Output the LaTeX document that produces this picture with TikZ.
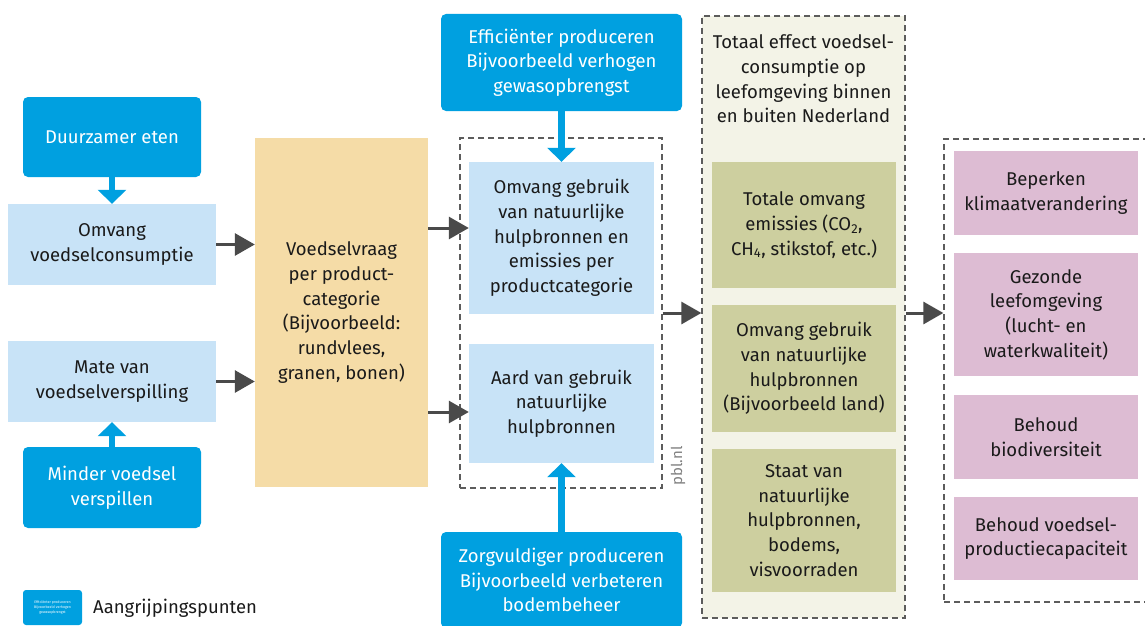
\documentclass[tikz,border=0pt]{standalone}
\usepackage{fontspec}
\setmainfont{Fira Sans}
\usetikzlibrary{positioning, arrows.meta}

\definecolor{pblblue}{HTML}{00A0E0}
\definecolor{lightblue}{HTML}{C8E3F7}
\definecolor{sand}{HTML}{F5DCA7}
\definecolor{olive}{HTML}{CDCF9F}
\definecolor{paleolive}{HTML}{F3F3E7}
\definecolor{rose}{HTML}{DDBCD3}
\definecolor{arrowgray}{HTML}{4A4A4A}
\definecolor{textdark}{HTML}{1A1A1A}

\begin{document}
\begin{tikzpicture}[x=1pt,y=-1pt,
  every node/.style={font=\fontsize{18.5}{24.7}\selectfont,align=center,text=textdark,inner sep=0pt},
  lever/.style={fill=pblblue,rounded corners=5pt,text=white},
  quantity/.style={fill=lightblue},
  demand/.style={fill=sand},
  effect/.style={fill=olive},
  goal/.style={fill=rose},
  group/.style={draw=arrowgray!90,dashed,dash pattern=on 6pt off 4pt,line width=1.3pt},
  flow/.style={draw=arrowgray,line width=3pt,-{Triangle[length=20pt,width=22pt]}},
  push/.style={draw=pblblue,line width=6.5pt,-{Triangle[length=14pt,width=28pt]}}]
  \useasboundingbox (0,0) rectangle (1145,626);

  % left column
  \node[lever,minimum width=178pt,minimum height=80pt] (eten) at (112,137) {Duurzamer eten};
  \node[quantity,minimum width=208pt,minimum height=81pt] (consumptie) at (112,244.5) {Omvang\\voedselconsumptie};
  \node[quantity,minimum width=208pt,minimum height=81pt] (verspilling) at (112,381.5) {Mate van\\voedselverspilling};
  \node[lever,minimum width=178pt,minimum height=81pt] (minder) at (112,487.5) {Minder voedsel\\verspillen};
  \node[demand,minimum width=173pt,minimum height=349pt] (vraag) at (341.5,312.5) {Voedselvraag\\per product-\\categorie\\(Bijvoorbeeld:\\rundvlees,\\granen, bonen)};

  % middle column
  \node[group,minimum width=202pt,minimum height=350pt] (gebruikgroep) at (561,313) {};
  \node[quantity,minimum width=185pt,minimum height=152pt] (omvanggebruik) at (561.5,238) {Omvang gebruik\\van natuurlijke\\hulpbronnen en\\emissies per\\productcategorie};
  \node[quantity,minimum width=185pt,minimum height=119pt] (aard) at (561.5,403.5) {Aard van gebruik\\natuurlijke\\hulpbronnen};
  \node[lever,minimum width=241pt,minimum height=97pt] (efficient) at (561.5,62.5) {Efficiënter produceren\\Bijvoorbeeld verhogen\\gewasopbrengst};
  \node[lever,minimum width=241pt,minimum height=96pt] (zorgvuldig) at (561.5,580) {Zorgvuldiger produceren\\Bijvoorbeeld verbeteren\\bodembeheer};
  \node[rotate=90,text=gray,font=\fontsize{15}{17}\selectfont] (bron) at (678,466) {pbl.nl};

  % total effect
  \node[group,fill=paleolive,minimum width=203pt,minimum height=602pt] (totaal) at (803.5,317) {};
  \node (totaaltitel) at (803.5,79) {Totaal effect voedsel-\\consumptie op\\leefomgeving binnen\\en buiten Nederland};
  \node[effect,minimum width=184pt,minimum height=126pt] (emissies) at (804,225) {Totale omvang\\emissies (CO\textsubscript{2},\\CH\textsubscript{4}, stikstof, etc.)};
  \node[effect,minimum width=184pt,minimum height=127pt] (land) at (804,368.5) {Omvang gebruik\\van natuurlijke\\hulpbronnen\\(Bijvoorbeeld land)};
  \node[effect,minimum width=184pt,minimum height=143pt] (staat) at (804,520.5) {Staat van\\natuurlijke\\hulpbronnen,\\bodems,\\visvoorraden};

  % goals
  \node[group,minimum width=216pt,minimum height=463pt] (doelen) at (1052,370.5) {};
  \node[goal,minimum width=184pt,minimum height=84pt] (klimaat) at (1046,193) {Beperken\\klimaatverandering};
  \node[goal,minimum width=184pt,minimum height=123pt] (gezond) at (1046,314.5) {Gezonde\\leefomgeving\\(lucht- en\\waterkwaliteit)};
  \node[goal,minimum width=184pt,minimum height=84pt] (biodiv) at (1046,437) {Behoud\\biodiversiteit};
  \node[goal,minimum width=184pt,minimum height=83pt] (capaciteit) at (1046,538.5) {Behoud voedsel-\\productiecapaciteit};

  % legend
  \node[lever,rounded corners=3pt,minimum width=59pt,minimum height=35pt,font=\fontsize{3.6}{4.6}\selectfont] (legenda) at (52.5,607.5) {Efficiënter produceren\\Bijvoorbeeld verhogen\\gewasopbrengst};
  \node[anchor=west] (legendatekst) at (93,608) {Aangrijpingspunten};

  % connectors
  \draw[push] (eten) -- (consumptie);
  \draw[push] (minder) -- (verspilling);
  \draw[push] (efficient) -- (omvanggebruik);
  \draw[push] (zorgvuldig) -- (aard);
  \draw[flow] (consumptie.east) -- (consumptie.east -| vraag.west);
  \draw[flow] (verspilling.east) -- (verspilling.east -| vraag.west);
  \draw[flow] ([yshift=10pt]omvanggebruik.west -| vraag.east) -- ([yshift=10pt]omvanggebruik.west);
  \draw[flow] ([yshift=-8.5pt]aard.west -| vraag.east) -- ([yshift=-8.5pt]aard.west);
  \draw[flow] (gebruikgroep.east) -- (gebruikgroep.east -| totaal.west);
  \draw[flow] (gebruikgroep.east -| totaal.east) -- (gebruikgroep.east -| doelen.west);
\end{tikzpicture}
\end{document}
